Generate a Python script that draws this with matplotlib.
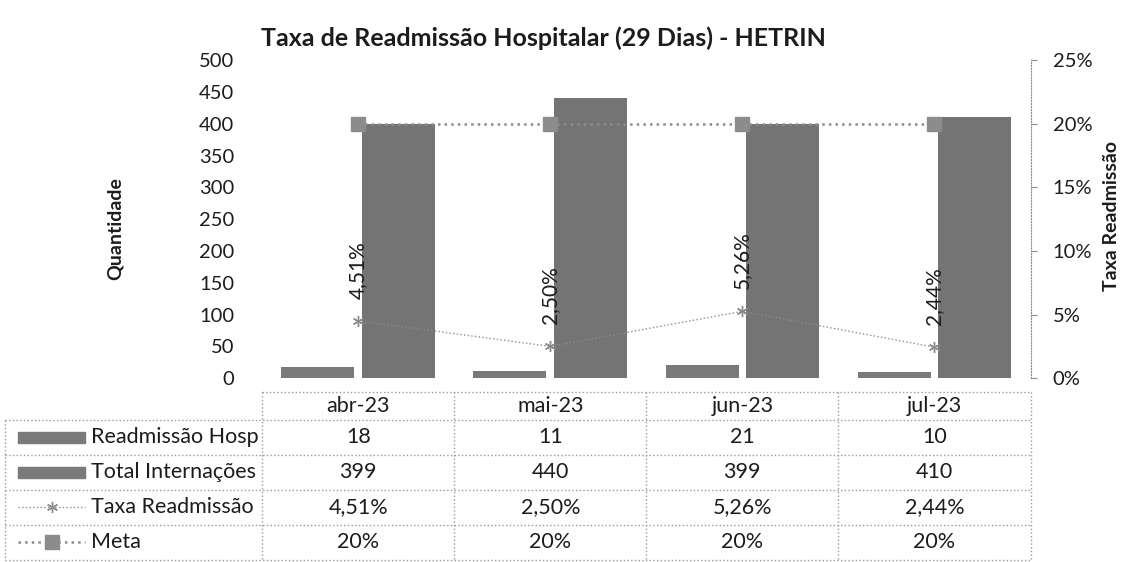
import matplotlib.pyplot as plt
from matplotlib.patches import Rectangle
import numpy as np

meses = ['abr-23', 'mai-23', 'jun-23', 'jul-23']
readmissao = [18, 11, 21, 10]
internacoes = [399, 440, 399, 410]
taxa = [4.51, 2.50, 5.26, 2.44]
meta = [20, 20, 20, 20]
series = ['Readmissão Hosp', 'Total Internações', 'Taxa Readmissão', 'Meta']


def pct(v, dec=2):
    return ('%.*f%%' % (dec, v)).replace('.', ',')


plt.rcParams['font.family'] = ['Lato', 'DejaVu Sans']
txt = '#1c1c1c'
cinza = '#7a7a7a'
linha = '#8c8c8c'

fig = plt.figure(figsize=(11.25, 5.62), dpi=100)
ax = fig.add_axes([0.233, 0.327, 0.683, 0.566])
x = np.arange(len(meses))
w = 0.38
ax.bar(x - w / 2 - 0.02, readmissao, w, color=cinza)
ax.bar(x + w / 2 + 0.02, internacoes, w, color='#747474')
ax.set_xlim(-0.5, 3.5)
ax.set_ylim(0, 500)
ax.set_yticks(range(0, 501, 50))
ax.set_xticks([])
for s in ax.spines.values():
    s.set_visible(False)
ax.tick_params(axis='y', length=0, labelsize=14.5, pad=20, labelcolor=txt)
ax.set_ylabel('Quantidade', fontsize=14, fontweight='bold', color=txt)
ax.yaxis.set_label_coords(-0.18, 0.47)

ax2 = ax.twinx()
ax2.plot(x, meta, ls=':', color=linha, marker='s', ms=10, lw=1.8)
ax2.plot(x, taxa, ls=':', color=linha, marker=(6, 2, 0), ms=8, lw=1)
for xi, t in zip(x, taxa):
    ax2.annotate(pct(t), (xi, t), xytext=(0, 16), textcoords='offset points',
                 rotation=90, ha='center', va='bottom', fontsize=15, color=txt)
ax2.set_ylim(0, 25)
ax2.set_yticks(range(0, 26, 5))
ax2.yaxis.set_major_formatter(lambda v, p: '%d%%' % v)
for k, s in ax2.spines.items():
    s.set_visible(k == 'right')
ax2.spines['right'].set_linestyle(':')
ax2.spines['right'].set_color(linha)
ax2.tick_params(axis='y', length=4, color=linha, labelsize=14.5, pad=12, labelcolor=txt)
ax2.set_ylabel('Taxa Readmissão', fontsize=14, fontweight='bold', color=txt)
ax2.yaxis.set_label_coords(1.095, 0.51)

fig.suptitle('Taxa de Readmissão Hospitalar (29 Dias) - HETRIN', x=0.483, y=0.932,
             va='center', fontsize=18, fontweight='bold', color=txt)

# tabela de dados
tab = fig.add_axes([0.233, 0.0036, 0.683, 0.299])
tab.set_xlim(-0.5, 3.5)
tab.set_ylim(4.8, 0)
tab.axis('off')
esq = -1.84
borda = dict(color='#9a9a9a', ls=':', lw=1, clip_on=False)
tab.plot([-0.5, 3.5], [0, 0], **borda)
for yb in [0.8, 1.8, 2.8, 3.8, 4.8]:
    tab.plot([esq, 3.5], [yb, yb], **borda)
for xb in [-0.5, 0.5, 1.5, 2.5, 3.5]:
    tab.plot([xb, xb], [0, 4.8], **borda)
tab.plot([esq, esq], [0.8, 4.8], **borda)

fs = 15.5
for i, m in enumerate(meses):
    tab.text(i, 0.4, m, ha='center', va='center', fontsize=fs, color=txt)
linhas = [[str(v) for v in readmissao],
          [str(v) for v in internacoes],
          [pct(v) for v in taxa],
          [pct(v, 0) for v in meta]]
for r, (nome, vals) in enumerate(zip(series, linhas)):
    yc = 1.3 + r
    tab.text(-1.39, yc, nome, ha='left', va='center', fontsize=fs, color=txt, clip_on=False)
    for i, v in enumerate(vals):
        tab.text(i, yc, v, ha='center', va='center', fontsize=fs, color=txt)

# chaves da legenda
for r in range(2):
    tab.add_patch(Rectangle((-1.77, 1.3 + r - 0.15), 0.35, 0.3, color=cinza, clip_on=False))
tab.plot([-1.77, -1.42], [3.3, 3.3], ls=':', color=linha, lw=1, clip_on=False)
tab.plot([-1.595], [3.3], ls='none', marker=(6, 2, 0), ms=8, color=linha, clip_on=False)
tab.plot([-1.77, -1.42], [4.3, 4.3], ls=':', color=linha, lw=1.8, clip_on=False)
tab.plot([-1.595], [4.3], ls='none', marker='s', ms=10, color=linha, clip_on=False)

fig.savefig('out.png', dpi=100)
